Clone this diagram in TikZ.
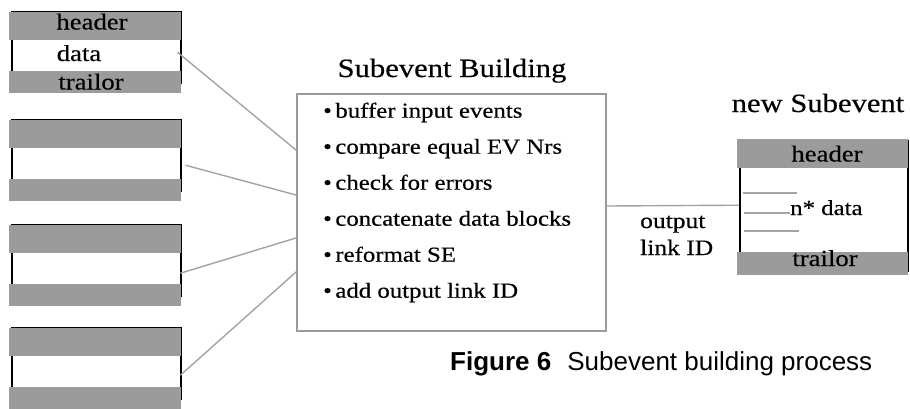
\documentclass[tikz,border=0pt]{standalone}
\usepackage{fontspec}
\setmainfont{Liberation Serif}[FakeStretch=1.16,FakeBold=0.4]
\newfontfamily\capsans{Liberation Sans}
\usetikzlibrary{calc}
\definecolor{bargray}{HTML}{9B9B9B}
\definecolor{linkgray}{HTML}{A3A3A3}
\begin{document}
\begin{tikzpicture}[x=1pt,y=-1pt,
  bar/.style={fill=bargray,draw=none,inner sep=0pt,minimum width=172pt,anchor=north west},
  frame/.style={draw=black,line width=2pt,inner sep=0pt,minimum width=169pt,anchor=north west},
  area/.style={inner sep=0pt,anchor=north west},
  link/.style={draw=linkgray,line width=1.4pt},
  blk/.style={inner sep=0pt,font=\fontsize{23}{27}\selectfont,anchor=base},
  item/.style={inner sep=0pt,font=\fontsize{21.4}{25}\selectfont,anchor=base west},
  ttl/.style={inner sep=0pt,font=\fontsize{26.4}{30}\selectfont,anchor=base},
]
\useasboundingbox (0,0) rectangle (910,408);
% input subevent blocks
\foreach \i/\tp in {1/12,2/120,3/225,4/328}{
  \node[frame,minimum height=71.5pt] (f\i) at (11,\tp-1.5) {};
  \node[bar,minimum height=28pt] (h\i) at (9,\tp) {};
  \node[area,minimum width=169pt,minimum height=31pt] (d\i) at (11,\tp+28) {};
  \node[bar,minimum height=22pt] (t\i) at (9,\tp+59) {};
}
\node[blk] (lh) at (92,29.5) {header};
\node[blk] (ld) at (79,61) {data};
\node[blk] (lt) at (91,89.5) {trailor};
% central box
\node[draw=bargray,line width=2pt,minimum width=309pt,minimum height=237pt,area] (box) at (296,93) {};
\node[ttl] (title) at (452,77) {Subevent Building};
\foreach \k/\txt in {0/buffer input events,1/compare equal EV Nrs,2/check for errors,3/concatenate data blocks,4/reformat SE,5/add output link ID}{
  \node[item] (it\k) at (323,117.7+36*\k) {\textbullet\kern3.5pt\txt};
}
% connectors from inputs
\draw[link] ($(d1.east)+(-3,-3.5)$) -- ($(box.north west)+(0,57)$);
\draw[link] ($(d2.east)+(5,1.5)$) -- ($(box.north west)+(0,102)$);
\draw[link] ($(d3.east)+(0,4.5)$) -- ($(box.north west)+(0,145)$);
\draw[link] ($(d4.east)+(0,3.5)$) -- ($(box.north west)+(0,179)$);
% new subevent
\node[ttl] (newse) at (818,112) {new Subevent};
\node[frame,minimum width=168pt,minimum height=130pt] (rf) at (739,140) {};
\node[bar,minimum width=171pt,minimum height=29pt] (rh) at (737,139) {};
\node[area,minimum width=168pt,minimum height=84pt] (rd) at (739,168) {};
\node[bar,minimum width=171pt,minimum height=23pt] (rt) at (737,252) {};
\node[blk] (rht) at (827,161.5) {header};
\node[blk] (rtt) at (825,266) {trailor};
\draw[link] (743,193) -- (797,193);
\draw[link] (744,213) -- (790,213);
\draw[link] (744,231) -- (799,231);
\node[inner sep=0pt,anchor=base west,font=\fontsize{21.4}{25}\selectfont] (rdt) at (790,215) {n* data};
% output link
\draw[link] ($(box.east)+(0,-6.5)$) -- ($(rd.west)+(0,-5)$);
\node[blk,anchor=base west,font=\fontsize{22}{26}\selectfont] (out1) at (640,228) {output};
\node[blk,anchor=base west,font=\fontsize{22}{26}\selectfont] (out2) at (640,255) {link ID};
% caption
\node[inner sep=0pt,anchor=base west,font=\capsans\fontsize{26}{30}\selectfont] (cap) at (450,370) {{\bfseries Figure 6}\hspace{16pt}Subevent building process};
\end{tikzpicture}
\end{document}
